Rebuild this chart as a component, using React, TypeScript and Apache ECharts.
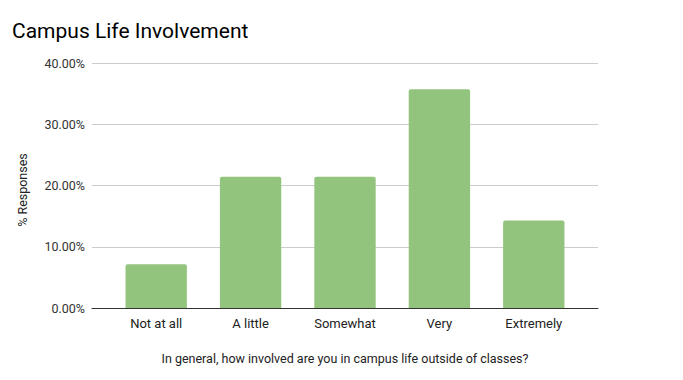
import React, { useEffect, useRef } from "react";
import * as echarts from "echarts";

const categories = ["Not at all", "A little", "Somewhat", "Very", "Extremely"];
const responses = [7.14, 21.43, 21.43, 35.71, 14.29];
const yTicks = [0, 10, 20, 30, 40];

export default function App() {
  const ref = useRef<HTMLDivElement>(null);
  useEffect(() => {
    if (!ref.current) return;
    const chart = echarts.init(ref.current, null, { renderer: "svg" });
    const font = "Roboto, Arial, sans-serif";
    chart.setOption({
      animation: false,
      backgroundColor: "#ffffff",
      textStyle: { fontFamily: font },
      title: {
        text: "Campus Life Involvement",
        left: 7,
        top: 15,
        textStyle: { fontFamily: font, fontSize: 21, fontWeight: "normal", color: "#000000" },
      },
      graphic: [
        {
          type: "text",
          x: 22,
          y: 190,
          rotation: Math.PI / 2,
          style: {
            text: "% Responses",
            fontFamily: font,
            fontSize: 12.5,
            fill: "#222222",
            align: "center",
            verticalAlign: "middle",
          },
        },
      ],
      grid: [
        { left: 92, right: 85, top: 63, bottom: 72 },
        { left: 109, right: 102, top: 63, bottom: 72 },
      ],
      xAxis: [
        {
          type: "category",
          gridIndex: 0,
          data: categories,
          axisLine: { show: true, lineStyle: { color: "#333333", width: 1 } },
          axisTick: { show: false },
          axisLabel: { show: false },
          name: "In general, how involved are you in campus life outside of classes?",
          nameLocation: "middle",
          nameGap: 44,
          nameTextStyle: { fontFamily: font, fontSize: 12.5, color: "#222222" },
        },
        {
          type: "category",
          gridIndex: 1,
          data: categories,
          axisLine: { show: false },
          axisTick: { show: false },
          axisLabel: { fontFamily: font, fontSize: 13, color: "#222222", margin: 9 },
        },
      ],
      yAxis: [
        {
          type: "value",
          gridIndex: 0,
          min: yTicks[0],
          max: yTicks[yTicks.length - 1],
          interval: 10,
          axisLabel: {
            fontFamily: font,
            fontSize: 12.5,
            color: "#333333",
            margin: 7,
            formatter: (v: number) => v.toFixed(2) + "%",
          },
          splitLine: { lineStyle: { color: "#cccccc", width: 1 } },
          axisLine: { show: false },
          axisTick: { show: false },
        },
        {
          type: "value",
          gridIndex: 1,
          min: yTicks[0],
          max: yTicks[yTicks.length - 1],
          interval: 10,
          show: false,
          splitLine: { show: false },
        },
      ],
      series: [
        {
          type: "bar",
          xAxisIndex: 1,
          yAxisIndex: 1,
          data: responses,
          barCategoryGap: "35%",
          itemStyle: { color: "#93c47d", borderRadius: [2, 2, 0, 0] },
        },
      ],
    });
    return () => chart.dispose();
  }, []);
  return <div ref={ref} style={{ width: 683, height: 380, position: "absolute", left: 0, top: 0 }} />;
}
